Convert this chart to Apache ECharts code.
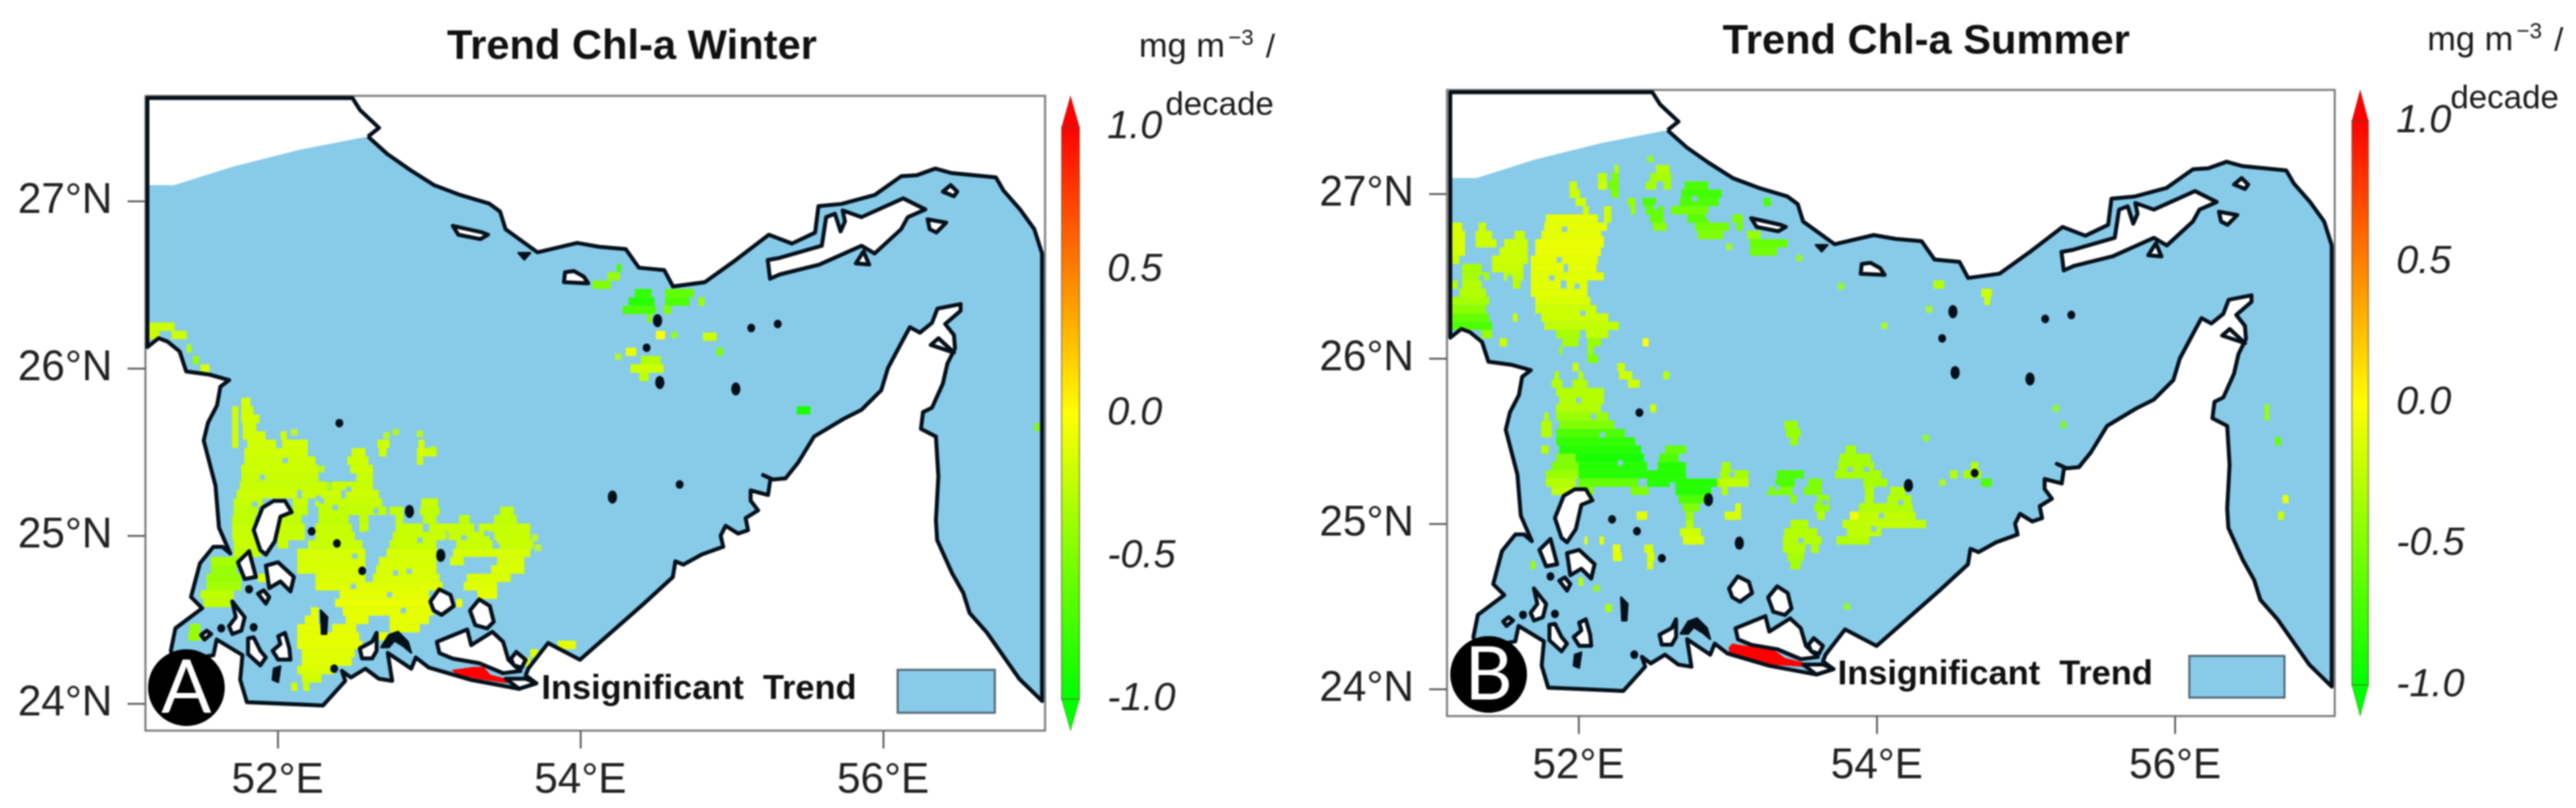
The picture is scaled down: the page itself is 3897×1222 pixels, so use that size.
<!DOCTYPE html>
<html>
<head>
<meta charset="utf-8">
<title>Trend Chl-a</title>
<script src="https://cdn.jsdelivr.net/npm/echarts@6/dist/echarts.min.js"></script>
<style>
html,body{margin:0;padding:0;background:#fff}
#chart{width:3897px;height:1222px;filter:blur(1px)}
</style>
</head>
<body>
<div id="chart"></div>
<script>
var lonTicks = [52, 54, 56];
var latTicks = [24, 25, 26, 27];
var scaleTicks = [-1, -0.5, 0, 0.5, 1];
var scaleEnds = [-1, 1];
var scaleTips = [-1.11, 1.11];
var scaleColors = ['#00ff00', '#ffff00', '#ff0000'];
var seaColor = '#87cbe9';

// open edge of the data in the north west
var noDataEdge = [[51.14,27.095],[51.316,27.095],[51.709,27.207],[52.146,27.306],[52.553,27.378]];
// coast, lon/lat, from Iran round the gulf back to the left edge
var mainCoast = [[52.597,27.385],[52.728,27.279],[52.874,27.187],[53.034,27.095],[53.208,27.036],[53.398,26.985],
    [53.47,26.937],[53.506,26.832],[53.717,26.694],[53.979,26.75],[54.125,26.727],[54.3,26.713],[54.387,26.602],
    [54.554,26.588],[54.612,26.49],[54.823,26.516],[55.027,26.648],[55.246,26.799],[55.398,26.746],[55.551,26.812],
    [55.573,26.97],[55.726,26.983],[55.944,27.036],[56.119,27.148],[56.221,27.154],[56.345,27.194],[56.454,27.167],
    [56.745,27.141],[56.796,27.062],[56.905,26.95],[56.999,26.832],[57.05,26.687],[57.05,24.015],
    [56.9,24.147],[56.686,24.423],[56.571,24.541],[56.53,24.66],[56.456,24.778],[56.357,24.976],[56.349,25.094],
    [56.365,25.357],[56.349,25.594],[56.25,25.64],[56.264,25.74],[56.323,25.766],[56.395,25.911],[56.425,26.03],
    [56.475,26.121],[56.468,26.2],[56.41,26.266],[56.512,26.345],[56.512,26.385],[56.359,26.358],[56.323,26.273],
    [56.243,26.214],[56.177,26.247],[56.133,26.174],[56.032,26.003],[55.988,25.871],[55.857,25.753],[55.74,25.7],
    [55.544,25.594],[55.437,25.436],[55.355,25.344],[55.273,25.337],[55.207,25.364],[55.256,25.344],[55.24,25.245],
    [55.125,25.272],[55.125,25.212],[55.174,25.153],[55.092,25.107],[55.108,25.035],[55.042,25.015],[54.96,25.061],
    [54.927,25.002],[54.944,24.936],[54.8,24.889],[54.681,24.829],[54.628,24.849],[54.611,24.755],[54.418,24.595],
    [53.998,24.261],[53.787,24.361],[53.656,24.208],[53.639,24.168],[53.709,24.121],[53.595,24.088],[53.279,24.141],
    [52.999,24.215],[52.913,24.275],[52.883,24.208],[52.728,24.302],[52.757,24.135],[52.669,24.148],[52.58,24.208],
    [52.484,24.155],[52.425,24.195],[52.447,24.135],[52.3,23.988],[52.004,24.0],[51.797,24.008],[51.753,24.142],
    [51.768,24.289],[51.598,24.382],[51.576,24.288],[51.32,24.25],[51.295,24.315],[51.325,24.449],[51.502,24.569],
    [51.428,24.636],[51.487,24.836],[51.576,24.936],[51.635,24.936],[51.687,24.896],[51.613,25.05],[51.59,25.3],
    [51.512,25.57],[51.54,25.676],[51.6,25.78],[51.622,25.891],[51.68,25.931],[51.549,25.964],[51.396,25.983],
    [51.353,26.102],[51.273,26.161],[51.214,26.181],[51.14,26.128]];
var northLand = [[51.14,27.615],[52.495,27.615],[52.546,27.542],[52.67,27.437],[52.597,27.385]];

var whiteIslands = [
    [[55.238,26.648],[55.318,26.661],[55.595,26.733],[55.624,26.904],[55.682,26.924],[55.719,26.819],[55.748,26.878],[55.733,26.944],[55.857,26.904],[56.133,27.016],[56.279,26.95],[56.163,26.904],[56.119,26.832],[55.944,26.687],[55.857,26.733],[55.58,26.621],[55.318,26.562],[55.253,26.536]],
    [[56.395,27.056],[56.446,27.095],[56.49,27.056],[56.468,27.029]],
    [[56.294,26.891],[56.417,26.871],[56.352,26.812],[56.308,26.832]],
    [[55.82,26.628],[55.871,26.7],[55.908,26.621]],
    [[56.315,26.141],[56.366,26.181],[56.468,26.095]],
    [[53.158,26.852],[53.354,26.812],[53.39,26.799],[53.34,26.773],[53.194,26.799]],
    [[53.892,26.516],[53.899,26.575],[53.957,26.582],[54.023,26.549],[54.052,26.509]],
    [[51.842,25.036],[51.901,25.17],[51.975,25.21],[52.049,25.21],[52.093,25.143],[52.019,25.116],[51.982,24.969],[51.923,24.889],[51.886,24.916]],
    [[51.738,24.843],[51.812,24.909],[51.857,24.756],[51.783,24.743]],
    [[51.923,24.823],[52.004,24.843],[52.108,24.756],[52.085,24.669],[52.019,24.729],[51.945,24.689]],
    [[51.871,24.656],[51.908,24.676],[51.945,24.636],[51.923,24.596]],
    [[51.701,24.609],[51.783,24.515],[51.761,24.435],[51.701,24.415],[51.679,24.462],[51.724,24.515]],
    [[51.495,24.409],[51.532,24.435],[51.561,24.415],[51.517,24.382]],
    [[51.805,24.389],[51.842,24.395],[51.886,24.315],[51.923,24.275],[51.886,24.228],[51.805,24.295]],
    [[52.004,24.402],[52.049,24.422],[52.078,24.329],[52.085,24.262],[52.004,24.262],[51.967,24.315],[52.019,24.355]],
    [[52.543,24.329],[52.625,24.369],[52.654,24.422],[52.654,24.315],[52.625,24.269],[52.558,24.269]],
    [[53.009,24.609],[53.068,24.682],[53.142,24.649],[53.164,24.582],[53.083,24.529],[53.031,24.556]],
    [[53.271,24.555],[53.332,24.622],[53.402,24.582],[53.428,24.488],[53.384,24.448],[53.306,24.468]],
    [[53.052,24.368],[53.253,24.442],[53.279,24.348],[53.419,24.428],[53.49,24.368],[53.525,24.261],[53.604,24.194],[53.49,24.181],[53.332,24.241],[53.157,24.268],[53.069,24.301]],
    [[53.542,24.268],[53.577,24.308],[53.639,24.261],[53.612,24.214],[53.56,24.228]],
    [[53.507,24.148],[53.639,24.148],[53.709,24.121],[53.595,24.088]]
];
var blackIslands = [
    [[53.59,26.69],[53.67,26.69],[53.63,26.65]],
    [[51.975,24.208],[52.019,24.222],[52.004,24.128],[51.967,24.142]],
    [[52.285,24.556],[52.329,24.516],[52.322,24.415],[52.292,24.415]],
    [[52.684,24.335],[52.735,24.409],[52.795,24.429],[52.861,24.369],[52.883,24.302],[52.831,24.342],[52.772,24.375],[52.735,24.335]]
];
var smallIslets = [[55.129,26.242],[55.304,26.266],[54.656,25.308],[52.408,25.674],[52.225,25.028],[52.392,24.956],[52.559,24.792],[51.812,24.682],[51.842,24.455],[51.628,24.449],[52.374,24.208],[54.438,26.124]];
var tallIslets = [[54.51,26.286],[54.525,25.917],[55.027,25.878],[54.212,25.233],[52.871,25.147],[53.078,24.884]];

var winterRedStrip = [[53.149,24.2],[53.294,24.219],[53.361,24.219],[53.406,24.173],[53.517,24.147],[53.517,24.12],[53.317,24.147],[53.183,24.173]];
var summerRedStrip = [[53.008,24.255],[53.034,24.275],[53.314,24.235],[53.384,24.188],[53.507,24.161],[53.507,24.134],[53.262,24.148],[53.008,24.215]];

// significant trend cells: [lat, value, lon from, lon to, lon from, lon to ...]
var winterRows = [
    [26.25,-0.2,51.14,51.32],[26.2,-0.2,51.14,51.22,51.3,51.4],[26.12,-0.3,51.4,51.43],[26.05,-0.4,51.44,51.48],[26.0,-0.15,51.49,51.55],
    [25.8,-0.15,51.76,51.82],[25.75,-0.18,51.7,51.74,51.76,51.84],[25.7,-0.18,51.7,51.74,51.76,51.88],[25.65,-0.18,51.7,51.74,51.77,51.86],
    [25.6,-0.18,51.7,51.74,51.77,51.92,52.02,52.06],[25.55,-0.18,51.7,51.74,51.8,51.99,52.03,52.2,52.66,52.74,52.93,52.97],
    [25.5,-0.18,51.78,52.2,52.49,52.58,52.67,52.72,52.92,53.05],[25.45,-0.2,51.78,52.25,52.46,52.6,52.92,52.96],
    [25.4,-0.2,51.76,52.27,52.48,52.63],[25.35,-0.22,51.76,52.27,52.52,52.63],[25.3,-0.22,51.75,52.33,52.36,52.63],
    [25.25,-0.2,51.73,52.13,52.16,52.42,52.45,52.67],[25.2,-0.22,51.71,51.9,52.1,52.2,52.25,52.69,52.95,53.06],
    [25.15,-0.25,51.71,51.87,52.1,52.2,52.27,52.72,52.74,52.83,52.94,53.07,53.47,53.56],
    [25.1,-0.25,51.7,51.85,52.0,52.16,52.27,52.47,52.54,52.6,52.78,52.83,52.96,53.05,53.2,53.27,53.43,53.58],
    [25.05,-0.22,51.7,51.85,52.0,52.18,52.25,52.49,52.54,52.6,52.78,52.96,53.0,53.3,53.33,53.67],
    [25.0,-0.22,51.7,51.85,52.0,52.18,52.25,52.51,52.76,53.1,53.13,53.4,53.43,53.67],
    [24.95,-0.22,51.71,51.87,52.0,52.07,52.2,52.56,52.74,53.05,53.18,53.42,53.45,53.69],
    [24.9,-0.25,51.71,51.89],[24.9,-0.16,52.13,52.58,52.72,53.05,53.16,53.67],
    [24.85,-0.35,51.56,51.76],[24.85,-0.16,52.13,52.58,52.67,53.05,53.14,53.23,53.45,53.63],
    [24.8,-0.4,51.56,51.73],[24.8,-0.15,52.13,52.58,52.65,53.05,53.41,53.63],
    [24.75,-0.4,51.53,51.76],[24.75,-0.15,51.87,51.94,52.25,52.58,52.63,53.07,53.25,53.54],
    [24.7,-0.35,51.53,51.76],[24.7,-0.12,52.25,53.09,53.23,53.45],
    [24.65,-0.25,51.49,51.71],[24.65,-0.1,52.41,53.0,53.32,53.45],
    [24.6,-0.25,51.51,51.69],[24.6,-0.08,52.38,53.03,53.18,53.22],
    [24.55,-0.1,52.22,52.27,52.43,53.03],[24.5,-0.1,52.18,52.27,52.45,52.6,52.74,53.0],
    [24.45,-0.4,51.42,51.49],[24.45,-0.1,52.13,52.29,52.36,52.52,52.74,52.94],
    [24.4,-0.4,51.41,51.49],[24.4,-0.1,52.13,52.54,52.67,52.74],[24.35,-0.1,52.13,52.56,53.85,53.97],
    [24.3,-0.12,52.16,52.51,53.67,53.72],[24.25,-0.12,52.16,52.49,53.63,53.67],[24.2,-0.15,52.13,52.38],[24.15,-0.18,52.16,52.29],[24.1,-0.2,52.09,52.13,52.17,52.21],
    [26.6,-0.7,54.24,54.27],[26.55,-0.4,54.18,54.26],[26.5,-0.5,54.08,54.2],
    [26.45,-0.8,54.36,54.47],[26.45,-0.6,54.56,54.75],[26.4,-0.85,54.32,54.49],[26.4,-0.7,54.56,54.72],[26.4,-0.4,54.78,54.82],
    [26.35,-0.7,54.28,54.5],[26.35,-0.5,54.55,54.6],[26.3,-0.5,54.44,54.47],
    [26.2,0,54.5,54.56],[26.19,-0.2,54.81,54.9],[26.1,-0.1,54.3,54.37],[26.1,-0.5,54.9,54.94],
    [26.05,-0.3,54.4,54.53],[26.0,-0.2,54.33,54.55],[25.95,-0.25,54.39,54.45],[25.75,-0.9,55.43,55.52],[25.65,-0.5,57.0,57.03]
];
var summerRows = [
    [27.15,-0.3,52.24,52.27,52.52,52.61],[27.1,-0.25,52.13,52.19],[27.1,-0.5,52.22,52.27],[27.1,-0.35,52.48,52.62],
    [27.05,-0.2,51.94,51.99,52.13,52.19],[27.05,-0.55,52.2,52.27],[27.05,-0.35,52.45,52.52,52.57,52.62],[27.05,-0.7,52.71,52.87],
    [27.0,-0.2,51.94,52.01],[27.0,-0.5,52.22,52.27],[27.0,-0.75,52.69,52.96],
    [26.95,-0.2,51.98,52.05],[26.95,-0.4,52.33,52.38],[26.95,-0.7,52.43,52.52,52.68,52.94,53.24,53.29],
    [26.9,-0.2,52.03,52.07,52.17,52.22],[26.9,-0.4,52.35,52.38],[26.9,-0.6,52.45,52.57],[26.9,-0.55,52.62,52.87],
    [26.85,-0.1,51.78,52.13],[26.85,-0.2,52.17,52.22],[26.85,-0.6,52.48,52.57],[26.85,-0.65,52.73,52.87],[26.85,-0.5,53.03,53.1],
    [26.8,-0.15,51.15,51.22],[26.8,-0.2,51.33,51.38],[26.8,-0.1,51.77,52.19],[26.8,-0.45,52.5,52.59],[26.8,-0.55,52.78,53.01,53.06,53.1],
    [26.75,-0.15,51.15,51.24],[26.75,-0.2,51.31,51.42,51.57,51.64],[26.75,-0.1,51.75,52.17],[26.75,-0.5,52.8,52.97],[26.75,-0.4,53.13,53.22],
    [26.7,-0.15,51.15,51.24],[26.7,-0.2,51.31,51.45,51.5,51.66],[26.7,-0.08,51.71,52.17],[26.7,-0.6,53.15,53.4],
    [26.65,-0.15,51.15,51.24],[26.65,-0.2,51.47,51.66],[26.65,-0.08,51.71,52.15],[26.65,-0.55,53.15,53.33],
    [26.6,-0.2,51.15,51.2,51.42,51.66],[26.6,-0.1,51.68,52.13],
    [26.55,-0.35,51.22,51.35],[26.55,-0.22,51.42,51.63],[26.55,-0.1,51.68,51.9,51.93,52.12],
    [26.5,-0.35,51.22,51.4],[26.5,-0.25,51.5,51.63],[26.5,-0.12,51.68,52.17],
    [26.45,-0.3,51.15,51.19,51.22,51.35,51.56,51.61],[26.45,-0.12,51.68,51.88,51.92,52.06],
    [26.4,-0.3,51.2,51.38],[26.4,-0.12,51.68,52.06],[26.35,-0.35,51.15,51.4],[26.35,-0.15,51.71,52.08],
    [26.3,-0.45,51.15,51.38],[26.3,-0.2,51.71,52.12],[26.25,-0.6,51.15,51.4],[26.25,-0.2,51.56,51.59,51.75,52.2],
    [26.2,-0.7,51.15,51.42],[26.2,-0.25,51.77,52.27],[26.15,-0.4,51.35,51.42],[26.15,-0.35,51.85,52.01],[26.15,-0.25,52.05,52.2],
    [26.1,-0.2,51.47,51.52],[26.1,-0.35,51.89,52.0],[26.1,-0.4,52.06,52.15],[26.1,0,52.43,52.47],
    [26.05,-0.4,51.87,51.89,52.06,52.1],[26.0,-0.5,52.06,52.13],[25.95,-0.2,51.96,52.0,52.26,52.31],
    [25.9,-0.3,51.84,51.87,52.0,52.03],[25.9,-0.2,52.27,52.36,52.57,52.6],[25.85,-0.3,51.82,51.89,51.96,52.06],[25.85,-0.2,52.33,52.41],
    [25.8,-0.3,51.85,52.17],[25.75,-0.3,51.87,52.17],[25.7,-0.3,51.85,52.15],[25.7,-0.2,52.48,52.52],[25.7,-0.4,56.6,56.63],
    [25.65,-0.3,51.77,51.8],[25.65,-0.4,51.85,52.2,56.6,56.63],[25.6,-0.3,51.75,51.82],[25.6,-0.5,51.87,52.24],[25.6,-0.4,53.38,53.47],
    [25.55,-0.3,51.75,51.82],[25.55,-0.7,51.85,52.31],[25.55,-0.4,53.39,53.49],[25.5,-0.8,51.85,52.38],[25.5,-0.4,53.42,53.47],[25.5,-0.6,56.67,56.71],
    [25.45,-0.3,51.75,51.8],[25.45,-0.85,51.87,52.42],[25.45,-0.6,52.58,52.72],[25.45,-0.35,53.79,53.86],
    [25.4,-0.5,51.85,51.98],[25.4,-0.9,51.98,52.44],[25.4,-0.7,52.54,52.67],[25.4,-0.35,53.75,53.96],
    [25.35,-0.5,51.82,52.0],[25.35,-0.85,52.0,52.46,52.53,52.72],[25.35,-0.35,52.96,53.02,53.74,53.98],[25.35,-0.3,54.63,54.68],
    [25.3,-0.4,51.78,52.0],[25.3,-0.85,52.0,52.72],[25.3,-0.35,52.95,53.14],[25.3,-0.7,53.33,53.51],[25.3,-0.35,53.72,54.03,54.58,54.7],[25.3,-0.3,54.49,54.54],
    [25.25,-0.3,51.78,51.98],[25.25,-0.6,52.0,52.4],[25.25,-0.85,52.46,52.93],[25.25,-0.25,52.93,53.14],[25.25,-0.7,53.32,53.45],[25.25,-0.5,53.54,53.63],[25.25,-0.35,53.91,54.07],[25.25,-0.7,54.7,54.77],
    [25.2,-0.25,51.82,52.0],[25.2,-0.5,52.0,52.1,52.35,52.47],[25.2,-0.85,52.65,52.89],[25.2,-0.3,52.96,53.0],[25.2,-0.5,53.26,53.44,53.51,53.63],[25.2,-0.3,53.92,53.98,54.09,54.19],
    [25.15,-0.7,52.67,52.86],[25.15,-0.45,53.42,53.46],[25.15,-0.4,53.6,53.68],[25.15,-0.3,53.92,53.98,54.07,54.23],[25.15,-0.1,56.72,56.76],
    [25.1,-0.5,52.7,52.81],[25.1,-0.15,53.05,53.09],[25.1,-0.4,53.58,53.68],[25.1,-0.3,53.88,54.24],
    [25.05,-0.1,52.39,52.46],[25.05,-0.4,52.72,52.77],[25.05,-0.15,52.98,53.09],[25.05,-0.3,53.6,53.65],[25.05,-0.05,53.82,53.88],[25.05,-0.25,53.88,54.26],[25.05,-0.2,56.69,56.73],
    [25.0,-0.3,52.72,52.77,53.42,53.54],[25.0,-0.25,53.77,54.33],
    [24.95,-0.2,52.68,52.82],[24.95,-0.3,53.38,53.6],[24.95,-0.25,53.8,54.03],
    [24.9,-0.1,52.04,52.06,52.14,52.17],[24.9,-0.15,52.7,52.84],[24.9,-0.3,53.37,53.63,53.73,53.95],
    [24.85,-0.05,52.23,52.28],[24.85,-0.15,52.44,52.5],[24.85,-0.3,53.37,53.52,53.56,53.61],
    [24.8,-0.1,52.23,52.29],[24.8,-0.15,52.46,52.51],[24.8,-0.35,53.4,53.51],[24.75,-0.4,51.68,51.71],[24.75,-0.15,52.46,52.5],[24.75,-0.35,53.42,53.49],
    [24.65,-0.3,52.0,52.03],[24.49,-0.35,52.18,52.22],[24.25,0.6,53.02,53.05],
    [26.45,-0.3,54.38,54.45],[26.4,-0.2,54.7,54.77],[26.35,-0.2,54.72,54.76]
];

// lone cells around the patches: [lon, lat, value]
var winterSpecks = [[52.94,25.61,-0.25],[53.03,25.515,-0.25],[52.72,25.6,-0.25],[53.7,24.99,-0.2],[53.72,24.93,-0.2],[52.29,25.4,-0.25],[52.34,25.3,-0.3],[52.11,25.62,-0.2],[52.78,25.62,-0.3],[53.1,25.0,-0.2],[54.25,26.07,-0.3],[54.62,26.2,-0.4]];
var summerSpecks = [[52.12,24.61,-0.4],[52.2,24.49,-0.3],[53.8,24.5,-0.4],[54.44,25.25,-0.3],[54.33,25.52,-0.4],[53.76,26.44,-0.4],[53.48,26.61,-0.4],[52.48,27.21,-0.4],[53.01,26.68,-0.35],[52.59,25.9,-0.3],[54.35,26.3,-0.3],[55.2,25.7,-0.4],[55.25,25.6,-0.5],[54.05,26.2,-0.3]];
// holes in the patches, insignificant water shows through: [lon, lat]
var winterHoles = [[51.85,25.19],[52.29,25.21],[52.6,25.015],[52.94,24.975],[53.23,24.99],[53.45,24.94],[53.38,25.015],[52.78,24.78],[52.74,24.65],[52.83,24.555],[52.27,25.226],[52.38,25.17],[52.47,25.28],[52.65,25.15],[52.51,24.88],[52.87,24.79],[52.05,25.45],[51.9,25.35],[52.5,24.7]];
var summerHoles = [[53.33,25.22],[53.45,25.196],[53.65,25.13],[53.93,25.33],[54.03,25.05],[53.26,25.21],[53.82,25.33],[53.49,24.9],[53.98,24.97],[54.16,25.13],[52.28,25.37],[52.63,25.236],[52.16,25.54],[53.03,25.3],[51.906,26.785],[51.82,26.49],[52.03,26.277],[51.87,26.6],[52.17,26.76],[51.99,26.44],[51.54,26.49],[51.35,26.49],[52.87,26.865],[52.52,26.92],[52.78,26.97],[52.0,25.75],[52.1,25.65]];

var panels = [
    {title: 'Trend Chl-a Winter', badge: 'A', rows: winterRows, strip: winterRedStrip, specks: winterSpecks, holes: winterHoles,
     left: 220, top: 145, width: 1361, height: 960, lonMin: 51.127, lonMax: 57.07, latMin: 23.838, latMax: 27.628,
     barLeft: 1606, barWidth: 27, titleX: 956, titleY: 72, unitY: 98, unitX: 1723, decadeX: 1763, decadeY: 185,
     badgeX: 282, badgeY: 1040, legendX: 819, legendY: 1043, boxX: 1358, boxY: 1013, boxW: 147, boxH: 65},
    {title: 'Trend Chl-a Summer', badge: 'B', rows: summerRows, strip: summerRedStrip, specks: summerSpecks, holes: summerHoles,
     left: 2189, top: 136, width: 1343, height: 947, lonMin: 51.118, lonMax: 57.07, latMin: 23.836, latMax: 27.629,
     barLeft: 3558, barWidth: 25, titleX: 2914, titleY: 64, unitY: 88, unitX: 3672, decadeX: 3707, decadeY: 175,
     badgeX: 2252, badgeY: 1020, legendX: 2780, legendY: 1021, boxX: 3312, boxY: 992, boxW: 144, boxH: 63}
];

function flattenRows(rows) {
    var data = [];
    rows.forEach(function(row) {
        for (var i = 2; i < row.length; i += 2) {
            data.push([row[i], row[0], row[i + 1], row[1]]);
        }
    });
    return data;
}

function polygonSeries(idx, polys, style) {
    return {
        type: 'custom', xAxisIndex: idx, yAxisIndex: idx, clip: true, silent: true, animation: false,
        data: polys.map(function(p) { return p[0]; }),
        renderItem: function(params, api) {
            var pts = polys[params.dataIndex].map(function(p) { return api.coord(p); });
            return {type: style.open ? 'polyline' : 'polygon', shape: {points: pts}, style: {
                fill: style.fill, stroke: style.stroke, lineWidth: style.lineWidth, lineJoin: 'round'
            }};
        }
    };
}

function dotSeries(idx, data, symbol, w, h, color) {
    var s = {type: 'scatter', xAxisIndex: idx, yAxisIndex: idx, data: data, symbol: symbol, symbolSize: [w, h],
        silent: true, animation: false};
    if (color) {
        s.itemStyle = {color: color, opacity: 1};
    }
    return s;
}

function cellSeries(idx, rows) {
    return {
        type: 'custom', xAxisIndex: idx, yAxisIndex: idx, clip: true, silent: true, animation: false,
        data: flattenRows(rows), encode: {x: [0, 2], y: 1},
        renderItem: function(params, api) {
            var a = api.coord([api.value(0), api.value(1) + 0.025]);
            var b = api.coord([api.value(2), api.value(1) - 0.025]);
            return {type: 'rect', shape: {x: a[0], y: a[1], width: b[0] - a[0], height: b[1] - a[1]},
                style: {fill: api.visual('color')}};
        }
    };
}

function colorbarSeries(idx) {
    return {
        type: 'custom', xAxisIndex: idx, yAxisIndex: idx, clip: false, silent: true, animation: false,
        data: [[0, scaleEnds[1]]],
        renderItem: function(params, api) {
            var tl = api.coord([0, scaleEnds[1]]), br = api.coord([1, scaleEnds[0]]);
            var tipTop = api.coord([0.5, scaleTips[1]]), tipBot = api.coord([0.5, scaleTips[0]]);
            var edge = 'rgba(90,80,50,0.55)';
            return {type: 'group', children: [
                {type: 'rect', shape: {x: tl[0], y: tl[1], width: br[0] - tl[0], height: br[1] - tl[1]}, style: {
                    fill: new echarts.graphic.LinearGradient(0, 0, 0, 1, [
                        {offset: 0, color: scaleColors[2]}, {offset: 0.5, color: scaleColors[1]}, {offset: 1, color: scaleColors[0]}
                    ]), stroke: edge, lineWidth: 2}},
                {type: 'polygon', shape: {points: [[tl[0], tl[1]], tipTop, [br[0], tl[1]]]}, style: {fill: scaleColors[2], stroke: edge, lineWidth: 1}},
                {type: 'polygon', shape: {points: [[tl[0], br[1]], tipBot, [br[0], br[1]]]}, style: {fill: scaleColors[0], stroke: edge, lineWidth: 1}}
            ]};
        }
    };
}

function textEl(x, y, text, size, extra) {
    var style = {x: x, y: y, text: text, fontSize: size, fontFamily: 'Liberation Sans', fill: '#1c1c1c', textAlign: 'left', textVerticalAlign: 'middle'};
    for (var k in extra) { style[k] = extra[k]; }
    return {type: 'text', z: 100, silent: true, style: style};
}

function init() {
    var chart = echarts.init(document.getElementById('chart'));
    var grid = [], xAxis = [], yAxis = [], series = [], graphic = [], cellIdx = [], speckIdx = [];

    panels.forEach(function(p, i) {
        var map = i * 2, bar = i * 2 + 1;
        grid.push({left: p.left, top: p.top, width: p.width, height: p.height, show: true,
            borderColor: '#777', borderWidth: 3, backgroundColor: '#fff'});
        grid.push({left: p.barLeft, top: p.top, width: p.barWidth, height: p.height});

        xAxis.push({type: 'value', gridIndex: map, min: p.lonMin, max: p.lonMax, splitLine: {show: false},
            axisLine: {show: false},
            axisTick: {show: true, length: 27, lineStyle: {color: '#666', width: 3}, customValues: lonTicks},
            axisLabel: {margin: 44, fontSize: 64, color: '#222', fontFamily: 'Liberation Sans', customValues: lonTicks,
                formatter: function(v) { return v + '°E'; }}});
        yAxis.push({type: 'value', gridIndex: map, min: p.latMin, max: p.latMax, splitLine: {show: false},
            axisLine: {show: false},
            axisTick: {show: true, length: 27, lineStyle: {color: '#666', width: 3}, customValues: latTicks},
            axisLabel: {margin: 50, fontSize: 64, color: '#222', fontFamily: 'Liberation Sans', customValues: latTicks,
                formatter: function(v) { return v + '°N'; }}});

        xAxis.push({type: 'value', gridIndex: bar, min: 0, max: 1, show: false});
        yAxis.push({type: 'value', gridIndex: bar, position: 'right', min: scaleTips[0], max: scaleTips[1], splitLine: {show: false},
            axisLine: {show: false},
            axisTick: {show: true, length: 21, lineStyle: {color: '#555', width: 2}, customValues: scaleTicks},
            axisLabel: {margin: 42, fontSize: 60, fontStyle: 'italic', color: '#222', fontFamily: 'Liberation Sans', customValues: scaleTicks,
                formatter: function(v) { return v.toFixed(1); }}});

        series.push(polygonSeries(map, [noDataEdge.concat(mainCoast)], {fill: seaColor, stroke: 'none', lineWidth: 0}));
        cellIdx.push(series.length);
        series.push(cellSeries(map, p.rows));
        speckIdx.push(series.length);
        series.push(dotSeries(map, p.specks, 'rect', 10, 10));
        series.push(dotSeries(map, p.holes, 'rect', 8, 8, seaColor));
        series.push(polygonSeries(map, [p.strip], {fill: '#ff0000', stroke: 'none', lineWidth: 0}));
        series.push(polygonSeries(map, [mainCoast.concat(northLand)], {open: true, fill: 'none', stroke: '#05101a', lineWidth: 6}));
        series.push(polygonSeries(map, whiteIslands, {fill: '#fff', stroke: '#05101a', lineWidth: 6}));
        series.push(polygonSeries(map, blackIslands, {fill: '#05101a', stroke: '#05101a', lineWidth: 3}));
        series.push(dotSeries(map, smallIslets, 'circle', 12, 13, '#05101a'));
        series.push(dotSeries(map, tallIslets, 'circle', 14, 20, '#05101a'));
        series.push(colorbarSeries(bar));

        graphic.push(textEl(p.titleX, p.titleY, p.title, 63, {fontWeight: 'bold', textAlign: 'center', fill: '#111'}));
        graphic.push(textEl(p.unitX, p.unitY, 'mg m', 52, {textVerticalAlign: 'bottom'}));
        graphic.push(textEl(p.unitX + 135, p.unitY - 22, '−3', 34, {textVerticalAlign: 'bottom'}));
        graphic.push(textEl(p.unitX + 192, p.unitY, '/', 50, {textVerticalAlign: 'bottom'}));
        graphic.push(textEl(p.decadeX, p.decadeY, 'decade', 50, {textVerticalAlign: 'bottom'}));
        graphic.push(textEl(p.legendX, p.legendY, 'Insignificant  Trend', 52, {fontWeight: 'bold', fill: '#111'}));
        graphic.push({type: 'rect', z: 100, silent: true, shape: {x: p.boxX, y: p.boxY, width: p.boxW, height: p.boxH},
            style: {fill: seaColor, stroke: '#4f6470', lineWidth: 3}});
        graphic.push({type: 'circle', z: 100, silent: true, shape: {cx: p.badgeX, cy: p.badgeY, r: 58}, style: {fill: '#000'}});
        graphic.push(textEl(p.badgeX, p.badgeY + 2, p.badge, 112, {textAlign: 'center', fill: '#fff', fontFamily: 'Lato'}));
    });

    chart.setOption({
        animation: false,
        backgroundColor: '#fff',
        grid: grid, xAxis: xAxis, yAxis: yAxis, series: series, graphic: graphic,
        visualMap: [
            {type: 'continuous', show: false, min: scaleEnds[0], max: scaleEnds[1], dimension: 3,
                seriesIndex: cellIdx, inRange: {color: scaleColors}},
            {type: 'continuous', show: false, min: scaleEnds[0], max: scaleEnds[1], dimension: 2,
                seriesIndex: speckIdx, inRange: {color: scaleColors}}
        ]
    });
}

init();
</script>
</body>
</html>
